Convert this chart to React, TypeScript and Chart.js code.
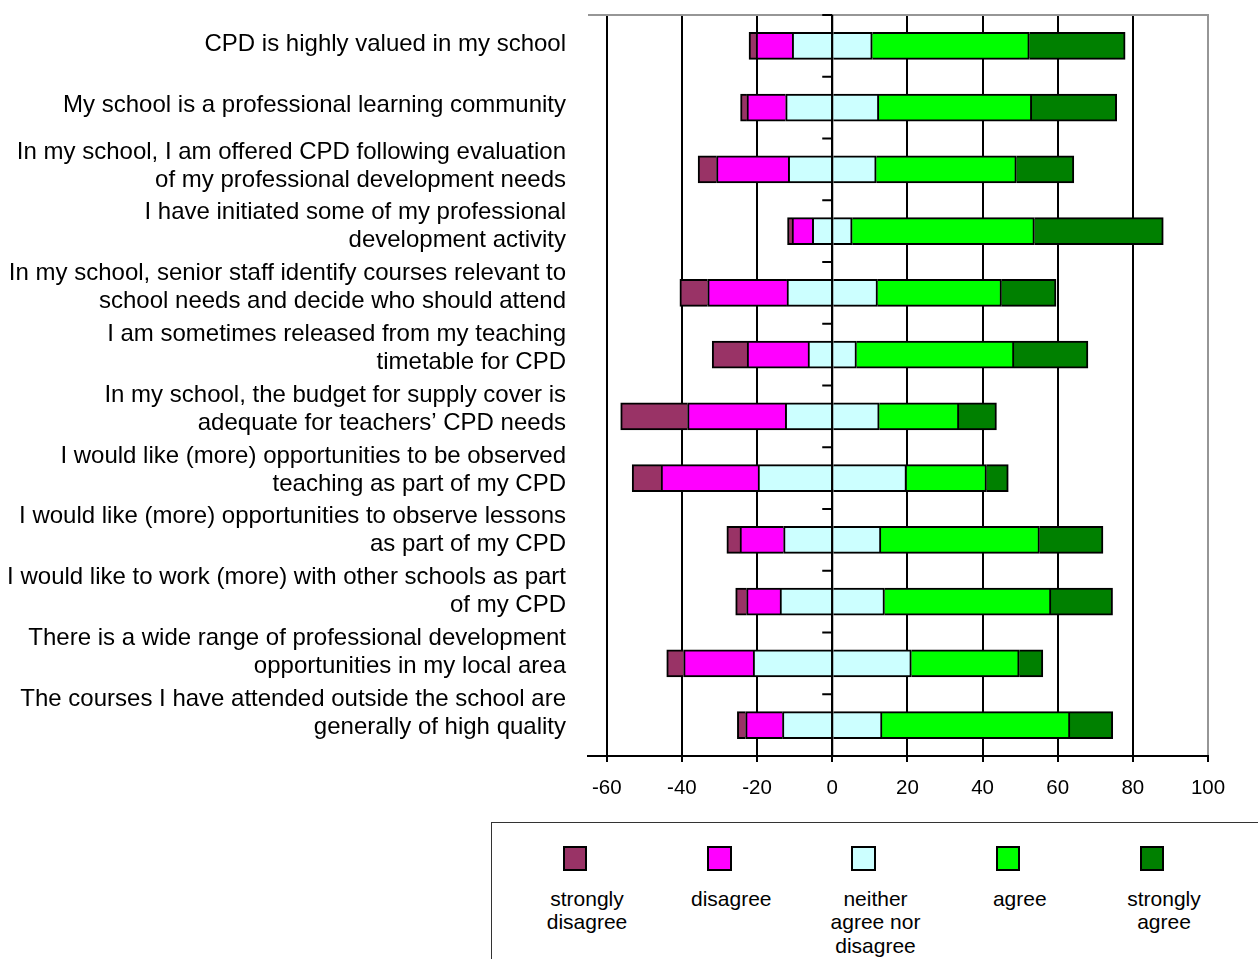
import React, { useEffect, useRef } from "react";
import { Chart, registerables } from "chart.js";

Chart.register(...registerables);

const categories: (string | string[])[] = [
  "CPD is highly valued in my school",
  "My school is a professional learning community",
  ["In my school, I am offered CPD following evaluation", "of my professional development needs"],
  ["I have initiated some of my professional", "development activity"],
  ["In my school, senior staff identify courses relevant to", "school needs and decide who should attend"],
  ["I am sometimes released from my teaching", "timetable for CPD"],
  ["In my school, the budget for supply cover is", "adequate for teachers\u2019 CPD needs"],
  ["I would like (more) opportunities to be observed", "teaching as part of my CPD"],
  ["I would like (more) opportunities to observe lessons", "as part of my CPD"],
  ["I would like to work (more) with other schools as part", "of my CPD"],
  ["There is a wide range of professional development", "opportunities in my local area"],
  ["The courses I have attended outside the school are", "generally of high quality"],
];

const stronglyDisagree = [1.9, 1.7, 4.9, 1.2, 7.4, 9.3, 17.8, 7.7, 3.5, 2.9, 4.5, 2.2];
const disagree = [9.6, 10.3, 19.1, 5.4, 21.1, 16.2, 26.0, 25.8, 11.6, 8.9, 18.5, 9.8];
const neither = [21.3, 24.8, 23.4, 10.6, 24.1, 12.9, 25.0, 39.5, 25.9, 27.8, 42.1, 26.5];
const agree = [41.8, 40.7, 37.3, 48.5, 33.0, 41.9, 21.2, 21.3, 42.2, 44.3, 28.7, 50.0];
const stronglyAgree = [25.5, 22.6, 15.3, 34.3, 14.5, 19.7, 10.0, 5.8, 16.9, 16.4, 6.3, 11.4];

const xTickValues = [-60, -40, -20, 0, 20, 40, 60, 80, 100];

const seriesNames = ["strongly disagree", "disagree", "neither agree nor disagree", "agree", "strongly agree"];
const legendLines = [["strongly", "disagree"], ["disagree"], ["neither", "agree nor", "disagree"], ["agree"], ["strongly", "agree"]];

const COLORS = {
  sd: "#993366",
  d: "#FF00FF",
  n: "#CCFFFF",
  a: "#00FF00",
  sa: "#008000",
};
const legendColors = [COLORS.sd, COLORS.d, COLORS.n, COLORS.a, COLORS.sa];

const FONT = "'Liberation Sans', Arial, sans-serif";

const overlayPlugin = {
  id: "overlayAxis",
  afterDatasetsDraw(chart: any) {
    const { ctx, chartArea: a, scales } = chart;
    const x = scales.x;
    const y = scales.y;
    const x0 = x.getPixelForValue(0);
    ctx.save();
    ctx.lineWidth = 2;
    ctx.strokeStyle = "#969696";
    ctx.beginPath();
    ctx.moveTo(a.left, a.top);
    ctx.lineTo(a.right + 1, a.top);
    ctx.stroke();
    ctx.strokeStyle = "#000";
    ctx.beginPath();
    ctx.moveTo(x0, a.top);
    ctx.lineTo(x0, a.bottom);
    for (let i = 0; i <= categories.length; i++) {
      const yy = y.getPixelForValue(i - 0.5);
      ctx.moveTo(x0 - 10, yy);
      ctx.lineTo(x0, yy);
    }
    ctx.stroke();

    // category labels (Excel-style placement, slightly compressed vs. bands)
    ctx.fillStyle = "#000";
    ctx.font = `24px ${FONT}`;
    ctx.textAlign = "right";
    ctx.textBaseline = "middle";
    const lh = 28;
    const labelRight = a.left - 22;
    categories.forEach((lab, i) => {
      const lines = Array.isArray(lab) ? lab : [lab];
      const yc = a.top + (y.getPixelForValue(i) - a.top) * 0.9846 - 1.1;
      lines.forEach((ln, j) => {
        ctx.fillText(ln, labelRight, yc + (j - (lines.length - 1) / 2) * lh);
      });
    });
    ctx.restore();
  },
};

export default function App() {
  const ref = useRef<HTMLCanvasElement | null>(null);

  useEffect(() => {
    if (!ref.current) return;
    const mk = (label: string, data: number[], color: string) => ({
      label,
      data,
      backgroundColor: color,
      borderColor: "#000",
      borderWidth: 2,
      stack: "s",
      barThickness: 27,
    });
    const chart = new Chart(ref.current, {
      type: "bar",
      data: {
        labels: categories as any,
        datasets: [
          mk(seriesNames[2], neither.map((v) => -v / 2), COLORS.n),
          mk(seriesNames[1], disagree.map((v) => -v), COLORS.d),
          mk(seriesNames[0], stronglyDisagree.map((v) => -v), COLORS.sd),
          mk(seriesNames[2], neither.map((v) => v / 2), COLORS.n),
          mk(seriesNames[3], agree, COLORS.a),
          mk(seriesNames[4], stronglyAgree, COLORS.sa),
        ],
      },
      options: {
        indexAxis: "y",
        animation: false,
        responsive: false,
        maintainAspectRatio: false,
        layout: { padding: { top: 15, right: 50, left: 0, bottom: 0 } },
        plugins: {
          legend: { display: false },
          tooltip: { enabled: false },
        },
        scales: {
          x: {
            stacked: true,
            min: -65,
            max: 100,
            afterBuildTicks: (s: any) => {
              s.ticks = xTickValues.map((v) => ({ value: v }));
            },
            afterFit: (s: any) => {
              s.height = 64;
              s.paddingLeft = 0;
              s.paddingRight = 0;
            },
            grid: {
              color: (c: any) => (c.tick && c.tick.value === 100 ? "#969696" : "#000"),
              lineWidth: 2,
              tickLength: 6,
              tickColor: "#000",
            },
            border: { display: true, color: "#000", width: 2 },
            ticks: {
              color: "#000",
              font: { family: FONT, size: 20.5 },
              padding: 14,
              maxRotation: 0,
              autoSkip: false,
            },
          },
          y: {
            stacked: true,
            afterFit: (s: any) => {
              s.width = 588;
              s.paddingTop = 0;
              s.paddingBottom = 0;
            },
            grid: { display: false, drawTicks: false },
            border: { display: false },
            ticks: { display: false },
          },
        },
      },
      plugins: [overlayPlugin],
    } as any);
    return () => chart.destroy();
  }, []);

  const squareCenters = legendColors.map((_, i) => 575 + i * 144.25);

  return (
    <div
      style={{
        position: "fixed",
        left: 0,
        top: 0,
        width: 1258,
        height: 959,
        overflow: "hidden",
        background: "#fff",
      }}
    >
      <canvas
        ref={ref}
        width={1258}
        height={820}
        style={{ position: "absolute", left: 0, top: 0, width: 1258, height: 820 }}
      />
      <div
        style={{
          position: "absolute",
          left: 491,
          top: 822,
          width: 800,
          height: 200,
          border: "1px solid #333",
          boxSizing: "border-box",
        }}
      />
      {legendColors.map((c, i) => (
        <React.Fragment key={i}>
          <div
            style={{
              position: "absolute",
              left: squareCenters[i] - 12.25,
              top: 846,
              width: 24.5,
              height: 25,
              background: c,
              border: "2px solid #000",
              boxSizing: "border-box",
            }}
          />
          <div
            style={{
              position: "absolute",
              left: squareCenters[i] + 12 - 70,
              top: 886.5,
              width: 140,
              textAlign: "center",
              fontFamily: FONT,
              fontSize: 21,
              lineHeight: "23.5px",
              color: "#000",
            }}
          >
            {legendLines[i].map((l, j) => (
              <div key={j}>{l}</div>
            ))}
          </div>
        </React.Fragment>
      ))}
    </div>
  );
}
